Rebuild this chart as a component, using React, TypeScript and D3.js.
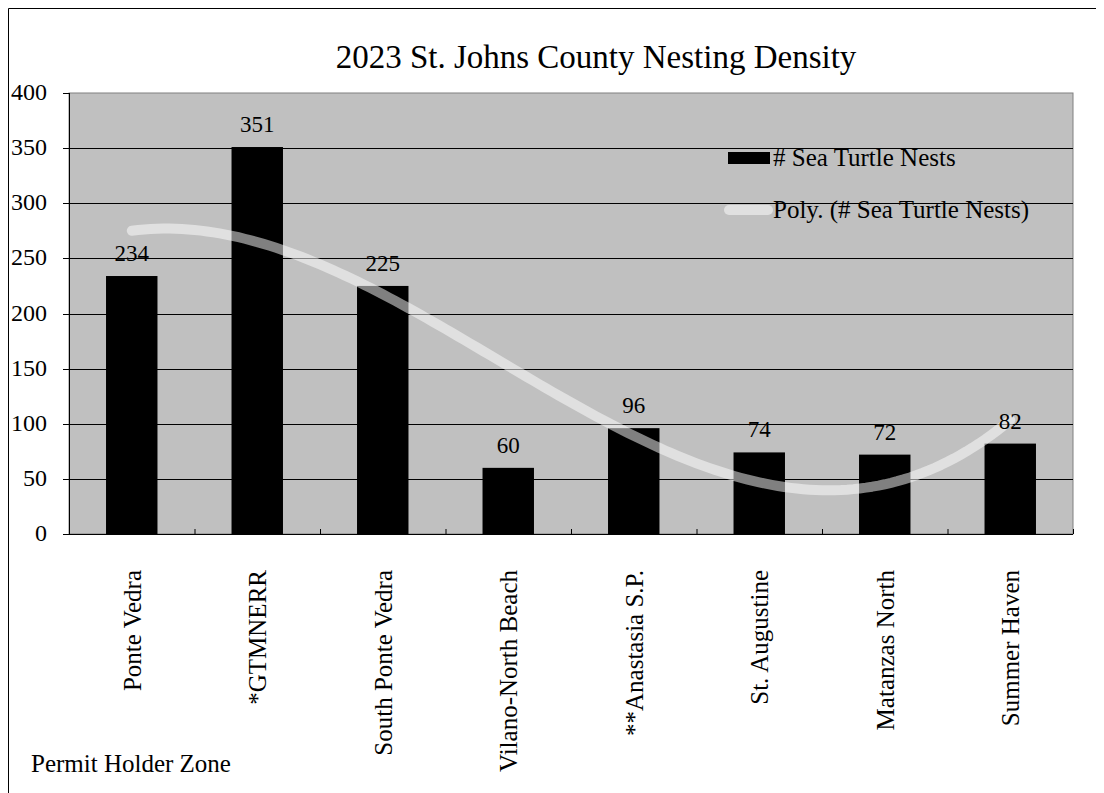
import React from "react";
import * as d3 from "d3";

const categories = [
  "Ponte Vedra",
  "*GTMNERR",
  "South Ponte Vedra",
  "Vilano-North Beach",
  "**Anastasia S.P.",
  "St. Augustine",
  "Matanzas North",
  "Summer Haven",
];
const nests = [234, 351, 225, 60, 96, 74, 72, 82];
const yTicks = [0, 50, 100, 150, 200, 250, 300, 350, 400];
const title = "2023 St. Johns County Nesting Density";
const seriesName = "# Sea Turtle Nests";
const trendName = "Poly. (# Sea Turtle Nests)";
const xAxisTitle = "Permit Holder Zone";

// least-squares polynomial fit (like a spreadsheet "Poly." trendline)
function polyFit(xs: number[], ys: number[], order: number): number[] {
  const n = order + 1;
  const A: number[][] = [];
  for (let i = 0; i < n; i++) {
    const row: number[] = [];
    for (let j = 0; j < n; j++) row.push(d3.sum(xs, (x) => Math.pow(x, i + j)));
    row.push(d3.sum(xs.map((x, k) => ys[k] * Math.pow(x, i))));
    A.push(row);
  }
  for (let c = 0; c < n; c++) {
    let p = c;
    for (let r = c + 1; r < n; r++) if (Math.abs(A[r][c]) > Math.abs(A[p][c])) p = r;
    const tmp = A[c];
    A[c] = A[p];
    A[p] = tmp;
    for (let r = 0; r < n; r++) {
      if (r === c) continue;
      const f = A[r][c] / A[c][c];
      for (let k = c; k <= n; k++) A[r][k] -= f * A[c][k];
    }
  }
  return A.map((row, i) => row[n] / row[i]);
}

export default function App() {
  const W = 1096;
  const H = 785;
  const left = 69,
    right = 1073,
    top = 93,
    bottom = 534;
  const x = d3.scaleBand<string>().domain(categories).range([left, right]).paddingInner(0.59).paddingOuter(0.295);
  const xc = (i: number) => (x(categories[i]) as number) + x.bandwidth() / 2;
  const y = d3.scaleLinear().domain([0, 400]).range([bottom, top]);
  const step = (right - left) / categories.length;

  const xs = nests.map((_, i) => i + 1);
  const coef = polyFit(xs, nests, 3);
  const f = (t: number) => coef.reduce((s, c, i) => s + c * Math.pow(t, i), 0);
  const pts = d3.range(1, 8.0001, 0.05).map((t) => [left + step * (t - 0.5), y(f(t))] as [number, number]);
  const line = d3.line()(pts) as string;

  const font = "'Liberation Serif', 'Times New Roman', serif";

  return (
    <svg width={W} height={H} style={{ display: "block" }} fontFamily={font}>
      <g transform="translate(-8,-8)">
        <rect x={8} y={8} width={1200} height={900} fill="#fff" />
        <line x1={8.5} y1={8.5} x2={1104} y2={8.5} stroke="#000" strokeWidth={1} />
        <line x1={8.5} y1={8.5} x2={8.5} y2={793} stroke="#000" strokeWidth={1} />

        <text x={596} y={68} textAnchor="middle" fontSize={33} fill="#000">
          {title}
        </text>

        <rect x={left} y={top} width={right - left} height={bottom - top} fill="#c0c0c0" stroke="#808080" strokeWidth={1} />
        {yTicks.map((t) => (
          <g key={t}>
            {t > 0 && t < 400 && (
              <line x1={left} x2={right} y1={Math.round(y(t)) + 0.5} y2={Math.round(y(t)) + 0.5} stroke="#000" strokeWidth={1} />
            )}
            <line x1={left - 6} x2={left} y1={Math.round(y(t)) + 0.5} y2={Math.round(y(t)) + 0.5} stroke="#000" strokeWidth={1} />
            <text x={47} y={y(t) + 7} textAnchor="end" fontSize={24} fill="#000">
              {t}
            </text>
          </g>
        ))}
        <line x1={left + 0.5} x2={left + 0.5} y1={top} y2={bottom} stroke="#000" strokeWidth={1} />

        {nests.map((v, i) => (
          <rect key={i} x={x(categories[i]) as number} y={y(v)} width={x.bandwidth()} height={bottom - y(v)} fill="#000" />
        ))}

        <line x1={left} x2={right} y1={bottom + 0.5} y2={bottom + 0.5} stroke="#000" strokeWidth={1} />
        {d3.range(1, categories.length + 1).map((k) => (
          <line key={k} x1={left + step * k + 0.5} x2={left + step * k + 0.5} y1={bottom} y2={bottom - 5} stroke="#000" strokeWidth={1} />
        ))}

        <path d={line} fill="none" stroke="#fff" strokeOpacity={0.5} strokeWidth={10} strokeLinecap="round" strokeLinejoin="round" />

        {nests.map((v, i) => (
          <text key={i} x={xc(i)} y={y(v) - 15} textAnchor="middle" fontSize={23} fill="#000">
            {v}
          </text>
        ))}

        {categories.map((c, i) => (
          <text
            key={c}
            transform={`translate(${xc(i) + 9},570) rotate(-90)`}
            textAnchor="end"
            fontSize={25}
            fill="#000"
          >
            {c}
          </text>
        ))}

        <text x={31} y={772} fontSize={25} fill="#000">
          {xAxisTitle}
        </text>

        <rect x={728} y={152} width={42} height={12} fill="#000" />
        <text x={773} y={166} fontSize={25} fill="#000">
          {seriesName}
        </text>
        <line x1={729} x2={768} y1={210} y2={210} stroke="#fff" strokeOpacity={0.5} strokeWidth={10} strokeLinecap="round" />
        <text x={773} y={218} fontSize={25} fill="#000">
          {trendName}
        </text>
      </g>
    </svg>
  );
}
